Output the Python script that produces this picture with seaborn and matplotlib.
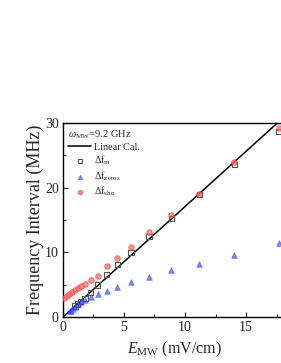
import matplotlib
matplotlib.use("Agg")
import matplotlib.pyplot as plt
import seaborn as sns
import numpy as np
import pandas as pd
from matplotlib.ticker import MultipleLocator

# Data
E_sho = [0.08, 0.3, 0.5, 0.76, 0.98, 1.2, 1.45, 1.8, 2.27, 2.84, 3.58, 4.45, 5.58, 7.05, 8.87, 11.17, 14.04, 17.68]
F_sho = [2.9, 3.3, 3.5, 3.9, 4.2, 4.5, 4.8, 5.15, 5.8, 6.4, 7.9, 9.2, 10.9, 13.1, 15.8, 19.0, 24.0, 29.3]
E_m = [0.98, 1.2, 1.45, 1.8, 2.27, 2.84, 3.58, 4.45, 5.58, 7.05, 8.87, 11.17, 14.04, 17.68]
F_m = [1.7, 2.0, 2.4, 2.9, 3.76, 4.95, 6.6, 8.1, 10.0, 12.46, 15.25, 19.0, 23.6, 28.7]
E_z = [0.57, 0.68, 0.79, 0.98, 1.2, 1.45, 1.8, 2.27, 2.84, 3.58, 4.45, 5.58, 7.05, 8.87, 11.17, 14.04, 17.68]
F_z = [0.9, 1.0, 1.2, 1.6, 1.96, 2.3, 2.6, 3.1, 3.55, 4.06, 4.7, 5.4, 6.2, 7.2, 8.2, 9.6, 11.4]
E_line = [0.0, 18.3]
F_line = [0.0, 31.26]

sns.set_style("ticks")
plt.rcParams['font.family'] = ['Liberation Serif', 'DejaVu Serif']
plt.rcParams['mathtext.fontset'] = 'custom'
plt.rcParams['mathtext.rm'] = 'Liberation Serif'
plt.rcParams['mathtext.it'] = 'Liberation Serif:italic'

fig = plt.figure(figsize=(2.81, 3.63), dpi=100)
ax = fig.add_axes([0.224, 0.1267, 0.795, 0.5344])

sns.lineplot(x=E_line, y=F_line, ax=ax, color='black', lw=1.1, label='Linear Cal.')
sns.scatterplot(x=E_m, y=F_m, ax=ax, marker='s', s=14, facecolor='none',
                edgecolor='#555555', linewidth=0.8, label=r'$\Delta$f$_{\mathrm{m}}$', zorder=3)
sns.scatterplot(x=E_z, y=F_z, ax=ax, marker='^', s=16, color='#3344ff', alpha=0.65,
                edgecolor='#3344ff', linewidth=0.5, label=r'$\Delta$f$_{\mathrm{zeros}}$', zorder=3)
sns.scatterplot(x=E_sho, y=F_sho, ax=ax, marker='o', s=16, color='#ff6666', alpha=0.7,
                edgecolor='#ff3333', linewidth=0.6, label=r'$\Delta$f$_{\mathrm{sho}}$', zorder=4)

ax.set_xlim(0, 18.3)
ax.set_ylim(0, 30)
ax.xaxis.set_major_locator(MultipleLocator(5))
ax.xaxis.set_minor_locator(MultipleLocator(2.5))
ax.yaxis.set_major_locator(MultipleLocator(10))
ax.yaxis.set_minor_locator(MultipleLocator(5))
ax.tick_params(which='both', direction='in', top=False, right=False, labelsize=10, pad=3)
ax.tick_params(which='major', length=3.5, width=0.8)
ax.tick_params(which='minor', length=2, width=0.8)
for sp in ax.spines.values():
    sp.set_linewidth(1.0)
    sp.set_color('black')
    sp.set_visible(True)

ax.set_xlabel(r'$E_{\mathrm{MW}}$ (mV/cm)', fontsize=11.5, labelpad=4)
ax.set_ylabel('Frequency Interval (MHz)', fontsize=13, labelpad=1)

leg = ax.legend(loc='upper left', frameon=False, fontsize=7.3, markerscale=0.8,
                title=r'$\omega_{\mathrm{MW}}$=9.2 GHz', title_fontsize=7.5,
                handlelength=2.3, handletextpad=0.3, borderaxespad=0.2, labelspacing=0.2,
                borderpad=0.3)
leg._legend_box.align = 'left'

fig.savefig('out.png', dpi=100)
